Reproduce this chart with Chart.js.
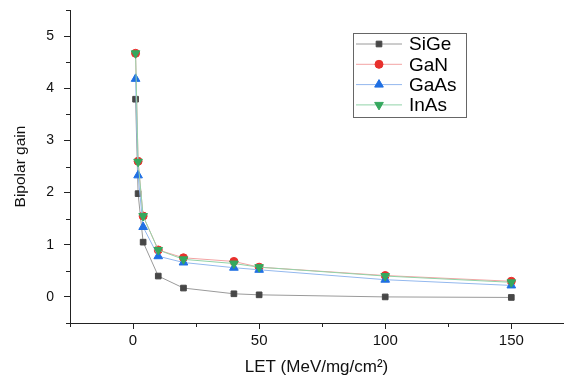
<!DOCTYPE html>
<html>
<head>
<meta charset="utf-8">
<script src="https://cdn.jsdelivr.net/npm/chart.js@4.4.1/dist/chart.umd.min.js"></script>
<style>
  html, body { margin: 0; padding: 0; background: #fff; }
  #wrap { width: 569px; height: 378px; position: relative; }
</style>
</head>
<body>
<div id="wrap"><canvas id="gainChart"></canvas></div>
<script>
// LET values (MeV/mg/cm2)
const letValues = [1, 2, 4, 10, 20, 40, 50, 100, 150];

// bipolar gain per material
const sigeGain = [3.79, 1.98, 1.05, 0.40, 0.17, 0.06, 0.04, 0.00, -0.01];
const ganGain  = [4.67, 2.60, 1.55, 0.90, 0.75, 0.68, 0.57, 0.41, 0.30];
const gaasGain = [4.18, 2.33, 1.34, 0.78, 0.66, 0.56, 0.52, 0.33, 0.22];
const inasGain = [4.67, 2.59, 1.55, 0.90, 0.72, 0.64, 0.57, 0.40, 0.28];

const seriesNames = ['SiGe', 'GaN', 'GaAs', 'InAs'];

const xTicks = [-25, 0, 25, 50, 75, 100, 125, 150];
const yTicks = [-0.5, 0, 0.5, 1, 1.5, 2, 2.5, 3, 3.5, 4, 4.5, 5, 5.5];

const FONT = "'Liberation Sans', Arial, sans-serif";

function toPoints(ys) {
    return letValues.map((x, i) => ({ x: x, y: ys[i] }));
}

function makeSet(label, ys, line, fill, style, size, rot, order) {
    return {
        label: label,
        data: toPoints(ys),
        borderColor: line,
        borderWidth: 1,
        pointStyle: style,
        pointRadius: size,
        pointRotation: rot,
        pointBackgroundColor: fill,
        pointBorderColor: fill,
        pointBorderWidth: 1,
        order: order,
        tension: 0
    };
}

// minor ticks are drawn short, majors use chart.js tick marks
const minorTicks = {
    id: 'minorTicks',
    afterDraw(chart) {
        const ctx = chart.ctx;
        const xs = chart.scales.x, ys = chart.scales.y;
        ctx.save();
        ctx.strokeStyle = '#222';
        ctx.lineWidth = 1;
        ctx.beginPath();
        xTicks.filter(v => v % 50 !== 0).forEach(v => {
            const px = Math.round(xs.getPixelForValue(v)) + 0.5;
            ctx.moveTo(px, ys.bottom);
            ctx.lineTo(px, ys.bottom + 4);
        });
        yTicks.filter(v => v % 1 !== 0).forEach(v => {
            const py = Math.round(ys.getPixelForValue(v)) + 0.5;
            ctx.moveTo(xs.left, py);
            ctx.lineTo(xs.left - 4, py);
        });
        ctx.stroke();
        ctx.restore();
    }
};

// boxed legend inside the plot
const boxLegend = {
    id: 'boxLegend',
    afterDraw(chart) {
        const ctx = chart.ctx;
        const left = 353, top = 33, w = 113, h = 84;
        ctx.save();
        ctx.fillStyle = '#fff';
        ctx.fillRect(left, top, w, h);
        ctx.strokeStyle = '#666';
        ctx.lineWidth = 1;
        ctx.strokeRect(left + 0.5, top + 0.5, w, h);
        ctx.font = '19px ' + FONT;
        ctx.textBaseline = 'middle';
        chart.data.datasets.forEach((ds, i) => {
            const y = 44 + i * 20.3;
            ctx.strokeStyle = ds.borderColor;
            ctx.beginPath();
            ctx.moveTo(356, y);
            ctx.lineTo(402, y);
            ctx.stroke();
            ctx.fillStyle = ds.pointBackgroundColor;
            ctx.strokeStyle = ds.pointBorderColor;
            Chart.helpers.drawPoint(ctx, {
                pointStyle: ds.pointStyle,
                radius: ds.pointRadius,
                rotation: ds.pointRotation,
                borderWidth: 1
            }, 379, y);
            ctx.fillStyle = '#000';
            ctx.fillText(ds.label, 409, y + 1);
        });
        ctx.restore();
    }
};

const ctx = document.getElementById('gainChart').getContext('2d');
const gainChart = new Chart(ctx, {
    type: 'line',
    data: {
        datasets: [
            makeSet(seriesNames[0], sigeGain, '#9a9a9a', '#474747', 'rect', 4, 0, 4),
            makeSet(seriesNames[1], ganGain, '#f3a3a3', '#e8302c', 'circle', 4, 0, 3),
            makeSet(seriesNames[2], gaasGain, '#93b8ee', '#1f6fe3', 'triangle', 5, 0, 2),
            makeSet(seriesNames[3], inasGain, '#92d3a8', '#35a85e', 'triangle', 5, 180, 1)
        ]
    },
    options: {
        responsive: true,
        maintainAspectRatio: false,
        animation: false,
        layout: { padding: { top: 10, right: 0, left: 0, bottom: 0 } },
        plugins: {
            legend: { display: false },
            tooltip: { enabled: false }
        },
        scales: {
            x: {
                type: 'linear',
                min: -25,
                max: 170.5,
                afterBuildTicks: s => { s.ticks = xTicks.map(v => ({ value: v })); },
                afterFit: s => { s.height = 55; s.paddingLeft = 0; s.paddingRight = 0; },
                border: { color: '#222', width: 1 },
                grid: {
                    drawOnChartArea: false,
                    tickLength: 6,
                    color: c => (c.tick && c.tick.value % 50 === 0) ? '#222' : 'rgba(0,0,0,0)'
                },
                ticks: {
                    padding: 3,
                    color: '#111',
                    font: { family: FONT, size: 15 },
                    maxRotation: 0,
                    callback: v => (v % 50 === 0 ? v : '')
                },
                title: {
                    display: true,
                    text: 'LET (MeV/mg/cm²)',
                    color: '#111',
                    font: { family: FONT, size: 17 },
                    padding: { top: 4, bottom: 0 }
                }
            },
            y: {
                type: 'linear',
                min: -0.5,
                max: 5.5,
                afterBuildTicks: s => { s.ticks = yTicks.map(v => ({ value: v })); },
                afterFit: s => { s.width = 70; s.paddingTop = 0; s.paddingBottom = 0; },
                border: { color: '#222', width: 1 },
                grid: {
                    drawOnChartArea: false,
                    tickLength: 6,
                    color: c => (c.tick && c.tick.value % 1 === 0) ? '#222' : 'rgba(0,0,0,0)'
                },
                ticks: {
                    padding: 10,
                    color: '#111',
                    font: { family: FONT, size: 14 },
                    callback: v => (v % 1 === 0 ? v : '')
                },
                title: {
                    display: true,
                    text: 'Bipolar gain',
                    color: '#111',
                    font: { family: FONT, size: 15.5 },
                    padding: { top: 11, bottom: 0 }
                }
            }
        }
    },
    plugins: [minorTicks, boxLegend]
});
</script>
</body>
</html>
